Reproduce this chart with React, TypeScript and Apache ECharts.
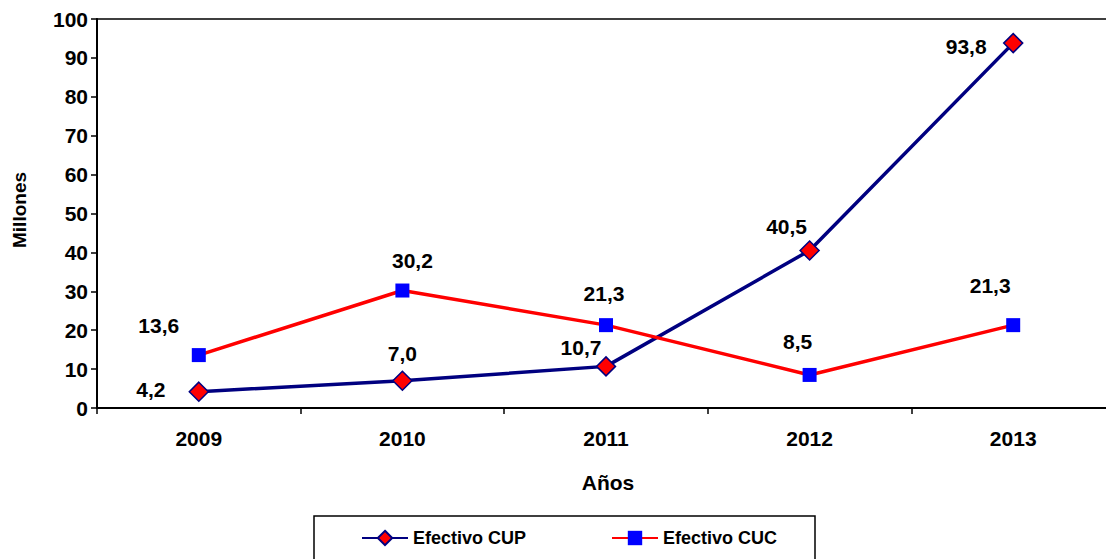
import React, { useEffect, useRef } from "react";
import * as echarts from "echarts";

const years = ["2009", "2010", "2011", "2012", "2013"];
const cupValues = [4.2, 7.0, 10.7, 40.5, 93.8];
const cucValues = [13.6, 30.2, 21.3, 8.5, 21.3];
const yTicks = { min: 0, max: 100, interval: 10 };

// label offsets (layout only)
const cupLabelOffsets = [[-48, -2], [0, -27], [-25, -19], [-23, -24], [-47, 3]];
const cucLabelOffsets = [[-40, -30], [10, -30], [-2, -32], [-12, -33], [-23, -40]];

const FONT = "'Liberation Sans', Arial, sans-serif";

const fmt = (p: any) => {
  const v = typeof p.value === "number" ? p.value : p.value?.value ?? p.data?.value;
  return Number(v).toFixed(1).replace(".", ",");
};

export default function App() {
  const ref = useRef<HTMLDivElement>(null);
  useEffect(() => {
    if (!ref.current) return;
    const chart = echarts.init(ref.current, null, { renderer: "svg" });
    const labelBase = {
      show: true,
      position: "inside" as const,
      fontFamily: FONT,
      fontWeight: "bold" as const,
      fontSize: 21,
      color: "#000",
      formatter: fmt,
    };
    const legendText = { fontFamily: FONT, fontWeight: "bold", fontSize: 18, color: "#000" };
    chart.setOption({
      animation: false,
      backgroundColor: "#fff",
      grid: {
        left: 97,
        top: 19,
        width: 1018,
        height: 389,
        containLabel: false,
        outerBoundsMode: "none",
        show: true,
        borderColor: "#000",
        borderWidth: 1.5,
        backgroundColor: "transparent",
      },
      xAxis: {
        type: "category",
        data: years,
        boundaryGap: true,
        axisLine: { show: true, lineStyle: { color: "#000", width: 2 } },
        axisTick: { show: true, length: 6, lineStyle: { color: "#000", width: 1.5 } },
        axisLabel: {
          margin: 20,
          fontFamily: FONT,
          fontWeight: "bold",
          fontSize: 21,
          color: "#000",
        },
        splitLine: { show: false },
      },
      yAxis: {
        type: "value",
        min: yTicks.min,
        max: yTicks.max,
        interval: yTicks.interval,
        axisLine: { show: true, lineStyle: { color: "#000", width: 2 } },
        axisTick: { show: true, length: 6, lineStyle: { color: "#000", width: 1.5 } },
        axisLabel: {
          margin: 9,
          fontFamily: FONT,
          fontWeight: "bold",
          fontSize: 21,
          color: "#000",
        },
        splitLine: { show: false },
      },
      legend: [
        {
          data: ["Efectivo CUP"],
          left: 361,
          top: 529,
          padding: 0,
          itemWidth: 46,
          itemHeight: 18,
          itemGap: 4,
          textStyle: legendText,
        },
        {
          data: ["Efectivo CUC"],
          left: 611,
          top: 529,
          padding: 0,
          itemWidth: 46,
          itemHeight: 18,
          itemGap: 4,
          textStyle: legendText,
        },
      ],
      graphic: [
        {
          type: "rect",
          shape: { x: 314, y: 516, width: 501, height: 60 },
          style: { fill: "none", stroke: "#000", lineWidth: 1.5 },
          silent: true,
        },
        {
          type: "text",
          x: 19,
          y: 210,
          rotation: Math.PI / 2,
          style: {
            text: "Millones",
            fontFamily: FONT,
            fontWeight: "bold",
            fontSize: 19,
            fill: "#000",
            align: "center",
            verticalAlign: "middle",
          },
        },
        {
          type: "text",
          x: 608,
          y: 482,
          style: {
            text: "Años",
            fontFamily: FONT,
            fontWeight: "bold",
            fontSize: 21,
            fill: "#000",
            align: "center",
            verticalAlign: "middle",
          },
        },
      ],
      series: [
        {
          name: "Efectivo CUP",
          type: "line",
          data: cupValues.map((v, i) => ({
            value: v,
            label: { ...labelBase, offset: cupLabelOffsets[i] },
          })),
          symbol: "diamond",
          symbolSize: 19,
          lineStyle: { color: "#000080", width: 3.5 },
          itemStyle: { color: "#FF0000", borderColor: "#000080", borderWidth: 1.5 },
          label: labelBase,
          z: 2,
        },
        {
          name: "Efectivo CUC",
          type: "line",
          data: cucValues.map((v, i) => ({
            value: v,
            label: { ...labelBase, offset: cucLabelOffsets[i] },
          })),
          symbol: "rect",
          symbolSize: 14,
          lineStyle: { color: "#FF0000", width: 3.5 },
          itemStyle: { color: "#0000FF", borderWidth: 0 },
          label: labelBase,
          z: 3,
        },
      ],
    });
    return () => chart.dispose();
  }, []);
  return (
    <div
      ref={ref}
      style={{ position: "absolute", left: 0, top: 0, width: 1106, height: 559, background: "#fff" }}
    />
  );
}
